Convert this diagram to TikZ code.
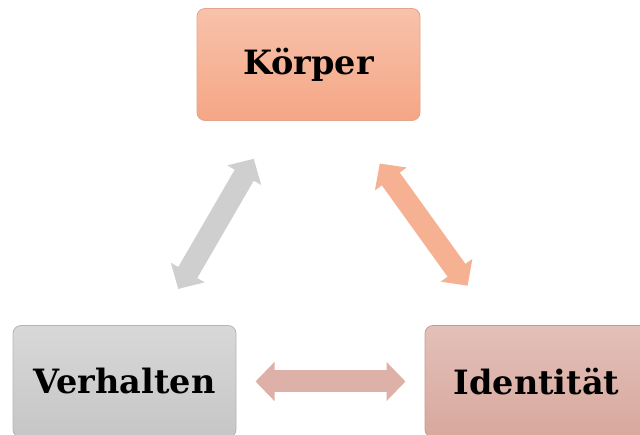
\documentclass[tikz,border=0pt]{standalone}
\usepackage{fontspec}
\setmainfont{DejaVu Serif}
\usetikzlibrary{arrows.meta}
\definecolor{korpT}{HTML}{F8C2AB}
\definecolor{korpB}{HTML}{F5A685}
\definecolor{korpD}{HTML}{E3A58D}
\definecolor{verhT}{HTML}{D8D8D8}
\definecolor{verhB}{HTML}{C6C6C6}
\definecolor{verhD}{HTML}{B5B5B5}
\definecolor{idenT}{HTML}{E3C0B8}
\definecolor{idenB}{HTML}{D8A89D}
\definecolor{idenD}{HTML}{C69B91}
\definecolor{arrG}{HTML}{CFCFCF}
\definecolor{arrO}{HTML}{F6B193}
\definecolor{arrR}{HTML}{DDB1A7}
\tikzset{
  box/.style={rounded corners=8pt, minimum width=223pt, minimum height=112pt,
    font=\bfseries\fontsize{33.5}{37}\selectfont, text=black, line width=0.8pt, inner sep=0pt},
  dblarrow/.style={line width=22pt, {Triangle[length=19pt,width=38pt]}-{Triangle[length=19pt,width=38pt]}}
}
\begin{document}
\begin{tikzpicture}[x=1pt,y=-1pt]
\useasboundingbox (0,0) rectangle (640,435);
\clip (0,0) rectangle (640,435);
\node[box, draw=korpD, top color=korpT, bottom color=korpB] (korp) at (308.5,64.5) {Körper};
\node[box, draw=verhD, top color=verhT, bottom color=verhB] (verh) at (124.5,381.5) {Verhalten};
\node[box, draw=idenD, top color=idenT, bottom color=idenB] (iden) at (536.5,381.5) {Identität};
\draw[dblarrow, draw=arrG, shorten <=107pt, shorten >=109pt] (verh.center) -- (korp.center);
\draw[dblarrow, draw=arrO, shorten <=122pt, shorten >=118pt] (korp.center) -- (iden.center);
\draw[dblarrow, draw=arrR, shorten <=131pt, shorten >=131pt] (verh.center) -- (iden.center);
\end{tikzpicture}
\end{document}
